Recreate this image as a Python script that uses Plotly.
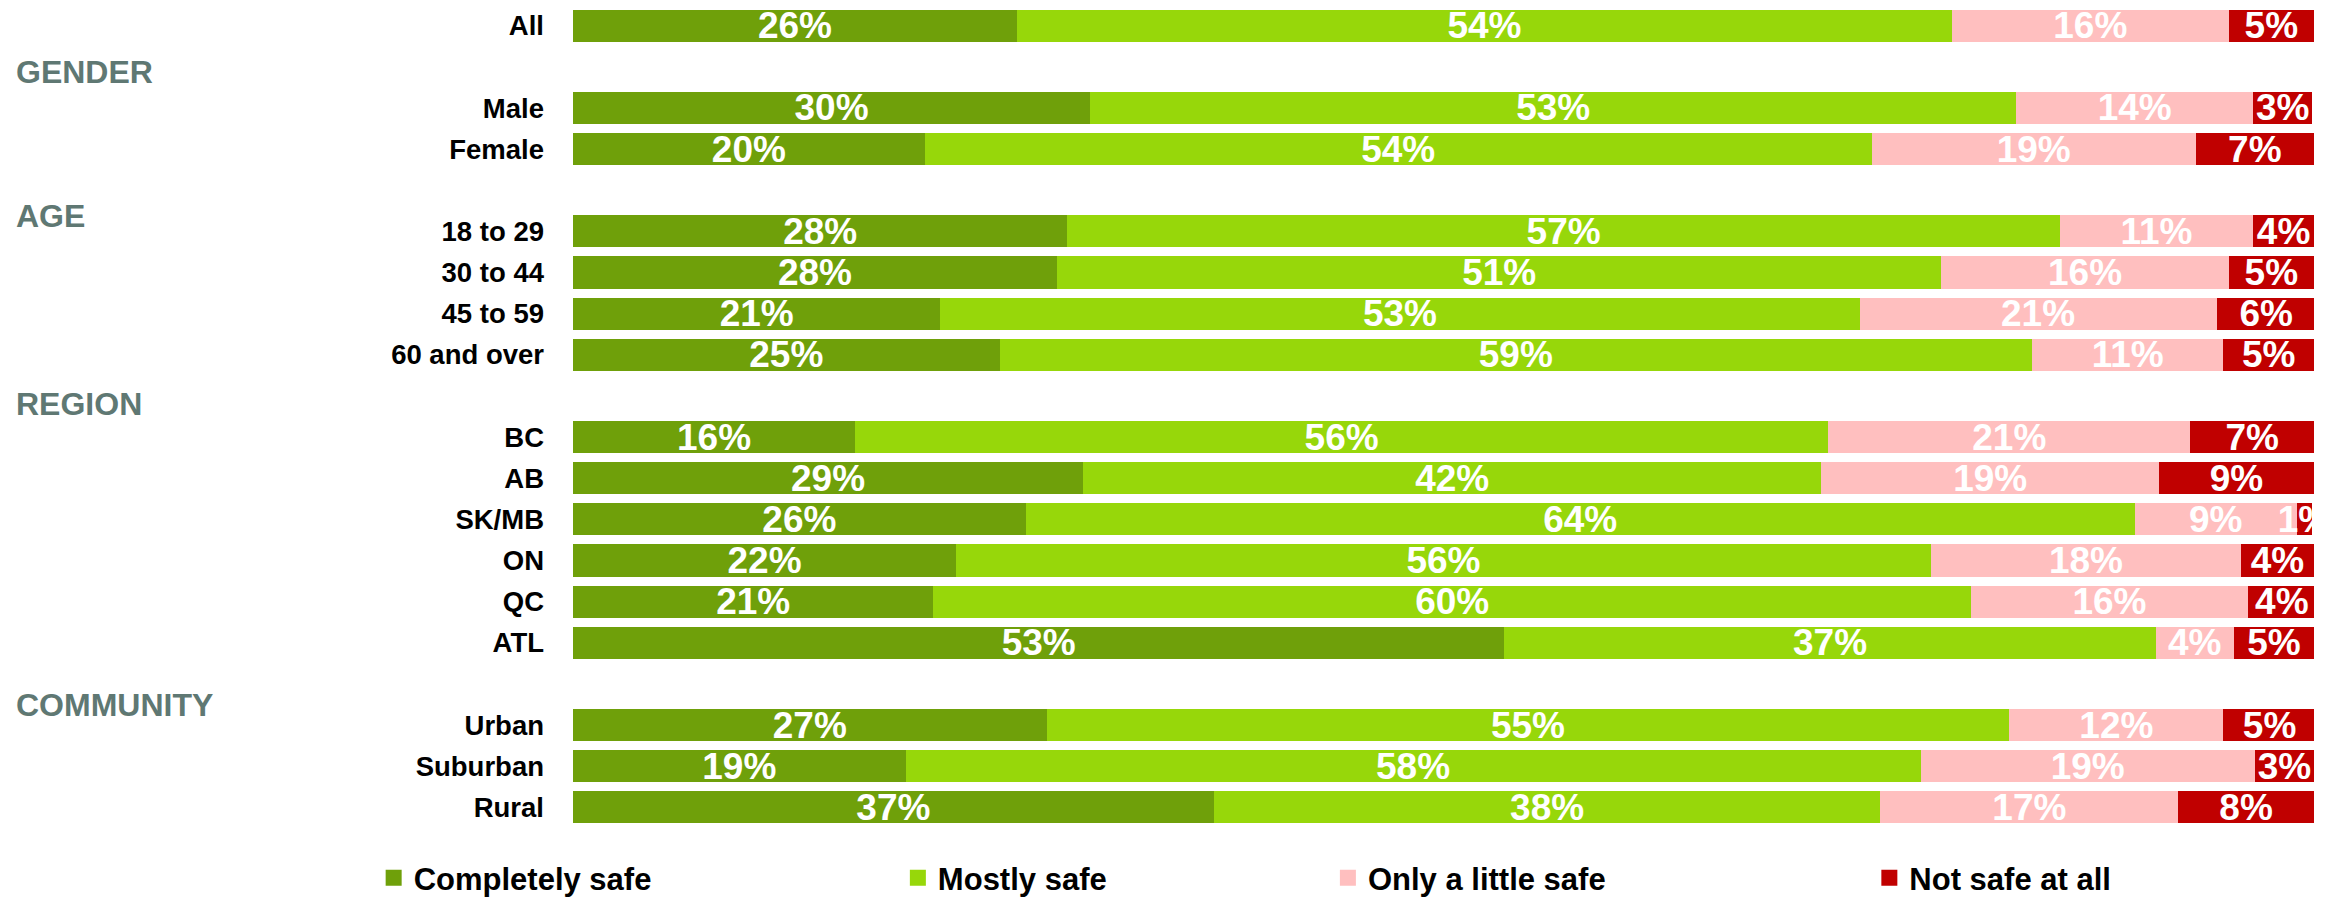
import plotly.graph_objects as go

# ---- data ----
groups = ["", "GENDER", "AGE", "REGION", "COMMUNITY"]
group_rows = [
    ["All"],
    ["Male", "Female"],
    ["18 to 29", "30 to 44", "45 to 59", "60 and over"],
    ["BC", "AB", "SK/MB", "ON", "QC", "ATL"],
    ["Urban", "Suburban", "Rural"],
]
series_names = ["Completely safe", "Mostly safe", "Only a little safe", "Not safe at all"]

completely_safe = [25.5, 29.7, 20.2, 28.4, 27.8, 21.1, 24.5, 16.2, 29.3, 26.0, 22.0, 20.7, 53.5, 27.2, 19.1, 36.8]
mostly_safe     = [53.7, 53.2, 54.4, 57.0, 50.8, 52.8, 59.3, 55.9, 42.4, 63.7, 56.0, 59.6, 37.4, 55.3, 58.3, 38.3]
little_safe     = [15.9, 13.6, 18.6, 11.1, 16.5, 20.5, 11.0, 20.8, 19.4,  9.3, 17.8, 15.9,  4.5, 12.3, 19.2, 17.1]
not_safe        = [ 4.9,  3.4,  6.8,  3.5,  4.9,  5.7,  5.2,  7.1,  8.9,  0.9,  4.2,  3.9,  4.6,  5.3,  3.4,  7.8]

completely_lbl = ["26%", "30%", "20%", "28%", "28%", "21%", "25%", "16%", "29%", "26%", "22%", "21%", "53%", "27%", "19%", "37%"]
mostly_lbl     = ["54%", "53%", "54%", "57%", "51%", "53%", "59%", "56%", "42%", "64%", "56%", "60%", "37%", "55%", "58%", "38%"]
little_lbl     = ["16%", "14%", "19%", "11%", "16%", "21%", "11%", "21%", "19%", "9%", "18%", "16%", "4%", "12%", "19%", "17%"]
not_lbl        = ["5%", "3%", "7%", "4%", "5%", "6%", "5%", "7%", "9%", "1%", "4%", "4%", "5%", "5%", "3%", "8%"]

colors = ["#6FA00A", "#97D70A", "#FFBFBF", "#C00000"]

# ---- row positions: one empty slot before each titled group ----
labels, positions, header_slots = [], [], []
pos = 0
for g, rows in zip(groups, group_rows):
    if g:
        header_slots.append(pos)
        pos += 1
    for r in rows:
        labels.append(r)
        positions.append(pos)
        pos += 1

header_offsets = [0.12, 0.62, 0.2, 0.5]  # text placement inside header slot

FONT = "Liberation Sans, Arial, sans-serif"

fig = go.Figure()
values = [completely_safe, mostly_safe, little_safe, not_safe]
texts = [completely_lbl, mostly_lbl, little_lbl, not_lbl]
for i, (name, vals, txt, col) in enumerate(zip(series_names, values, texts, colors)):
    fig.add_trace(go.Bar(
        y=positions, x=vals, orientation="h", name=name,
        marker=dict(color=col, line=dict(width=0)),
        width=0.78,
        text=txt, textposition="inside", insidetextanchor="middle",
        textangle=0, constraintext="none",
        insidetextfont=dict(family=FONT, size=37, color="white", weight="bold"),
        showlegend=False, hoverinfo="skip",
    ))

# legend entries (one legend per item so spacing follows the reference)
legend_x = [-0.1145, 0.1866, 0.4336, 0.7446]
for i, (name, col) in enumerate(zip(series_names, colors)):
    lg = "legend" if i == 0 else f"legend{i+1}"
    fig.add_trace(go.Scatter(
        x=[None], y=[None], mode="markers", name=name,
        marker=dict(symbol="square", size=20, color=col),
        legend=lg, showlegend=True, hoverinfo="skip",
    ))

legend_common = dict(
    orientation="h", yanchor="middle", xanchor="left", y=-0.061,
    font=dict(family=FONT, size=31, color="black", weight="bold"),
    bgcolor="rgba(0,0,0,0)", borderwidth=0, itemsizing="trace",
)
layout_legends = {}
for i, lx in enumerate(legend_x):
    key = "legend" if i == 0 else f"legend{i+1}"
    layout_legends[key] = dict(legend_common, x=lx)

annotations = []
for g, slot, off in zip([g for g in groups if g], header_slots, header_offsets):
    annotations.append(dict(
        text=g, xref="paper", yref="y", x=-0.321, y=slot + off,
        xanchor="left", yanchor="middle", showarrow=False,
        font=dict(family=FONT, size=32, color="#5F7873", weight="bold"),
    ))

fig.update_layout(
    width=2339, height=898,
    barmode="stack",
    bargap=0.2,
    margin=dict(l=573, r=25, t=5, b=70, autoexpand=False),
    paper_bgcolor="white", plot_bgcolor="white",
    xaxis=dict(range=[0, 100], visible=False, fixedrange=True),
    yaxis=dict(
        range=[pos - 0.5, -0.5], tickmode="array", tickvals=positions, ticktext=labels,
        showgrid=False, zeroline=False, showline=False, ticks="",
        tickfont=dict(family=FONT, size=27.5, color="black", weight="bold"),
        ticklabelstandoff=28, fixedrange=True, automargin=False,
    ),
    annotations=annotations,
    **layout_legends,
)

fig.write_html("out.html", config={"displayModeBar": False},
               post_script="document.body.style.margin='0px';")
